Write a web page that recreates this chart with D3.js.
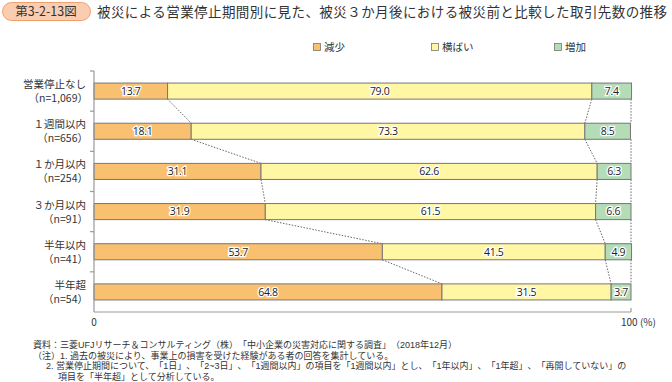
<!DOCTYPE html>
<html><head><meta charset="utf-8">
<script src="https://cdn.jsdelivr.net/npm/d3@7"></script>
<style>
body{margin:0;background:#fff;}
svg{font-family:"Noto Sans CJK JP","Noto Sans",sans-serif;}
.note{text-spacing-trim:space-all;}
</style></head>
<body>
<svg id="c" width="672" height="382"></svg>
<script>
const categories = ["営業停止なし","１週間以内","１か月以内","３か月以内","半年以内","半年超"];
const sampleSizes = ["（n=1,069）","（n=656）","（n=254）","（n=91）","（n=41）","（n=54）"];
const seriesNames = ["減少","横ばい","増加"];
const decrease = [13.7,18.1,31.1,31.9,53.7,64.8];
const flat = [79.0,73.3,62.6,61.5,41.5,31.5];
const increase = [7.4,8.5,6.3,6.6,4.9,3.7];
const xTicks = [0,100];
const colors = ["#F9C070","#FFF7A3","#B3DCB7"];
const notes = [
 "資料：三菱UFJリサーチ＆コンサルティング（株）「中小企業の災害対応に関する調査」（2018年12月）",
 "（注）1. 過去の被災により、事業上の損害を受けた経験がある者の回答を集計している。",
 "2. 営業停止期間について、「1日」、「2~3日」、「1週間以内」の項目を「1週間以内」とし、「1年以内」、「1年超」、「再開していない」の",
 "項目を「半年超」として分析している。"
];

const svg = d3.select("#c");
const x = d3.scaleLinear().domain([0,100]).range([94,631]);
const y = d3.scaleBand().domain(categories).range([71,312]).paddingInner(0.6).paddingOuter(0.3);

// Title
svg.append("rect").attr("x",2.5).attr("y",2.5).attr("width",88).attr("height",18).attr("rx",9)
  .attr("fill","#FBCDB0").attr("stroke","#F0A070");
svg.append("text").attr("x",46).attr("y",16).attr("text-anchor","middle").attr("font-size",12.5).attr("fill","#333").text("第3-2-13図");
svg.append("text").attr("x",97).attr("y",16.5).attr("font-size",13.5).attr("fill","#333")
  .attr("textLength",570).attr("lengthAdjust","spacing")
  .text("被災による営業停止期間別に見た、被災３か月後における被災前と比較した取引先数の推移");

// Legend
const legX = [317,435,558];
seriesNames.forEach((s,i)=>{
  svg.append("rect").attr("x",legX[i]-3.5).attr("y",43.5).attr("width",7).attr("height",7)
    .attr("fill",colors[i]).attr("stroke","#777").attr("stroke-width",0.8);
  svg.append("text").attr("x",legX[i]+7).attr("y",51).attr("font-size",10.5).attr("fill","#333").text(s);
});

const rows = categories.map((c,i)=>({cat:c, vals:[decrease[i],flat[i],increase[i]]}));

// connectors
for(let i=0;i<rows.length-1;i++){
  const a=rows[i].vals, b=rows[i+1].vals;
  const bounds=[[a[0],b[0]],[a[0]+a[1],b[0]+b[1]],[100,100]];
  bounds.forEach(([p,q])=>{
    svg.append("line").attr("x1",x(p)).attr("y1",y(categories[i])+y.bandwidth())
      .attr("x2",x(q)).attr("y2",y(categories[i+1]))
      .attr("stroke","#555").attr("stroke-width",0.9).attr("stroke-dasharray","1.5,1.5");
  });
}

// bars
rows.forEach((r,i)=>{
  let cum=0;
  r.vals.forEach((v,k)=>{
    svg.append("rect").attr("x",x(cum)).attr("y",y(r.cat)).attr("width",x(cum+v)-x(cum)).attr("height",y.bandwidth())
      .attr("fill",colors[k]).attr("stroke","#777").attr("stroke-width",1);
    svg.append("text").attr("x",(x(cum)+x(cum+v))/2).attr("y",y(r.cat)+y.bandwidth()/2+3.8)
      .attr("text-anchor","middle").attr("font-size",10.5).attr("font-family","'Open Sans','Noto Sans',sans-serif")
      .attr("fill","#222").attr("stroke","#fff").attr("stroke-width",2.5).attr("paint-order","stroke")
      .attr("letter-spacing",-0.3).text(v.toFixed(1));
    cum+=v;
  });
  const cy=y(r.cat)+y.bandwidth()/2;
  svg.append("text").attr("x",86).attr("y",cy-3).attr("text-anchor","end").attr("font-size",10.5).attr("fill","#333").text(r.cat);
  svg.append("text").attr("x",88).attr("y",cy+11).attr("text-anchor","end").attr("font-size",10.5).attr("fill","#333").text(sampleSizes[i]);
});

// axes
const ax = svg.append("g").attr("stroke","#999").attr("stroke-width",1.2);
ax.append("line").attr("x1",94).attr("x2",94).attr("y1",71).attr("y2",312);
ax.append("line").attr("x1",94).attr("x2",631).attr("y1",312).attr("y2",312);
ax.append("line").attr("x1",631).attr("x2",631).attr("y1",308).attr("y2",312);
const step=y.step();
for(let i=0;i<=categories.length;i++){
  const yy = y(categories[0]) - y.paddingInner()*step/2 + i*step;
  if(yy<312) ax.append("line").attr("x1",90).attr("x2",94).attr("y1",yy).attr("y2",yy);
}
xTicks.forEach(t=>{
  svg.append("text").attr("x",x(t)+(t===100?-10:0)).attr("y",326).attr("text-anchor",t===0?"middle":"start")
    .attr("font-size",10).attr("fill","#333").text(t===100?"100 (%)":String(t));
});

// notes
const noteX=[33,33,46,58];
notes.forEach((n,i)=>{
  svg.append("text").attr("class","note").attr("x",noteX[i]).attr("y",348+i*10.7).attr("font-size",9)
    .attr("font-family","'Liberation Sans','Noto Sans CJK JP',sans-serif")
    .attr("fill","#333").text(n);
});
</script>
</body></html>
